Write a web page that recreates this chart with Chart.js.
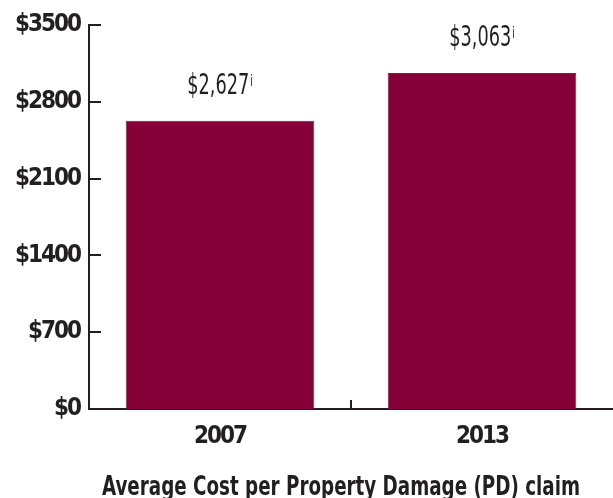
<!DOCTYPE html>
<html><head><meta charset="utf-8">
<script src="https://cdn.jsdelivr.net/npm/chart.js@4/dist/chart.umd.min.js"></script>
<style>html,body{margin:0;padding:0;background:#fff}#wrap{width:613px;height:498px;position:relative}</style>
</head><body><div id="wrap"><canvas id="c" width="613" height="498"></canvas></div>
<script>
const categories = ['2007', '2013'];
const avgCost = [2627, 3063];
const valueLabels = ['$2,627', '$3,063'];
const footnoteMarks = ['i', 'i'];
const yTicks = [0, 700, 1400, 2100, 2800, 3500];
const axisTitle = 'Average Cost per Property Damage (PD) claim';

const FAM = "'Liberation Sans Narrow', 'DejaVu Sans Condensed', 'DejaVu Sans', sans-serif";
const INK = '#231f20';

const tightText = {
  id: 'tightText',
  beforeDraw(chart) {
    if ('letterSpacing' in chart.ctx) chart.ctx.letterSpacing = '-2px';
  }
};

const innerTicks = {
  id: 'innerTicks',
  afterDraw(chart) {
    const {ctx, chartArea, scales: {x, y}} = chart;
    ctx.save();
    ctx.strokeStyle = INK;
    ctx.lineWidth = 2;
    ctx.beginPath();
    y.ticks.forEach(t => {
      if (t.value === 0) return;
      const py = Math.round(y.getPixelForValue(t.value));
      ctx.moveTo(chartArea.left, py);
      ctx.lineTo(chartArea.left + 12, py);
    });
    for (let i = 1; i < categories.length; i++) {
      const px = Math.round((x.getPixelForValue(i - 1) + x.getPixelForValue(i)) / 2);
      ctx.moveTo(px, chartArea.bottom);
      ctx.lineTo(px, chartArea.bottom - 9);
    }
    ctx.stroke();
    ctx.restore();
  }
};

const valueText = {
  id: 'valueText',
  afterDatasetsDraw(chart) {
    const {ctx} = chart;
    const meta = chart.getDatasetMeta(0);
    ctx.save();
    if ('letterSpacing' in ctx) ctx.letterSpacing = '0px';
    ctx.fillStyle = INK;
    ctx.textBaseline = 'alphabetic';
    ctx.textAlign = 'left';
    const sx = 0.68;
    meta.data.forEach((bar, i) => {
      ctx.font = '29px ' + FAM;
      const w1 = ctx.measureText(valueLabels[i]).width * sx;
      ctx.font = '15px ' + FAM;
      const w2 = ctx.measureText(footnoteMarks[i]).width * sx;
      const total = w1 + 1 + w2;
      const left = bar.x - total / 2;
      const base = bar.y - 26.5;
      ctx.save();
      ctx.translate(left, base);
      ctx.scale(sx, 1);
      ctx.font = '29px ' + FAM;
      ctx.fillText(valueLabels[i], 0, 0);
      ctx.font = '15px ' + FAM;
      ctx.fillText(footnoteMarks[i], (w1 + 1) / sx, -8);
      ctx.restore();
    });
    ctx.restore();
  }
};

const bottomTitle = {
  id: 'bottomTitle',
  afterDraw(chart) {
    const {ctx} = chart;
    ctx.save();
    if ('letterSpacing' in ctx) ctx.letterSpacing = '0px';
    ctx.fillStyle = INK;
    ctx.font = 'bold 27px ' + FAM;
    ctx.textAlign = 'center';
    ctx.textBaseline = 'alphabetic';
    const w = ctx.measureText(axisTitle).width;
    const sx = Math.min(1, 478 / w);
    ctx.translate(341, 495);
    ctx.scale(sx, 1);
    ctx.fillText(axisTitle, 0, 0);
    ctx.restore();
  }
};

new Chart(document.getElementById('c'), {
  type: 'bar',
  data: {
    labels: categories,
    datasets: [{
      data: avgCost,
      backgroundColor: '#850037',
      borderColor: '#4a3a40',
      borderWidth: 1,
      categoryPercentage: 0.72,
      barPercentage: 1
    }]
  },
  options: {
    responsive: false,
    animation: false,
    devicePixelRatio: 1,
    layout: {padding: {top: 25, left: 0, right: 0, bottom: 0}},
    plugins: {legend: {display: false}, tooltip: {enabled: false}, title: {display: false}},
    scales: {
      x: {
        offset: true,
        grid: {display: false, drawTicks: false, offset: true},
        border: {display: true, color: INK, width: 2},
        ticks: {color: INK, padding: 13, font: {family: FAM, size: 24, weight: 'bold'}},
        afterFit(s) { s.height = 89; }
      },
      y: {
        min: 0, max: 3500,
        grid: {display: false, drawTicks: false},
        border: {display: true, color: INK, width: 2},
        afterBuildTicks(s) { s.ticks = yTicks.map(v => ({value: v})); },
        ticks: {
          color: INK, padding: 9,
          font: {family: FAM, size: 24, weight: 'bold'},
          callback: v => '$' + v
        },
        afterFit(s) { s.width = 89; }
      }
    }
  },
  plugins: [tightText, innerTicks, valueText, bottomTitle]
});
</script></body></html>
